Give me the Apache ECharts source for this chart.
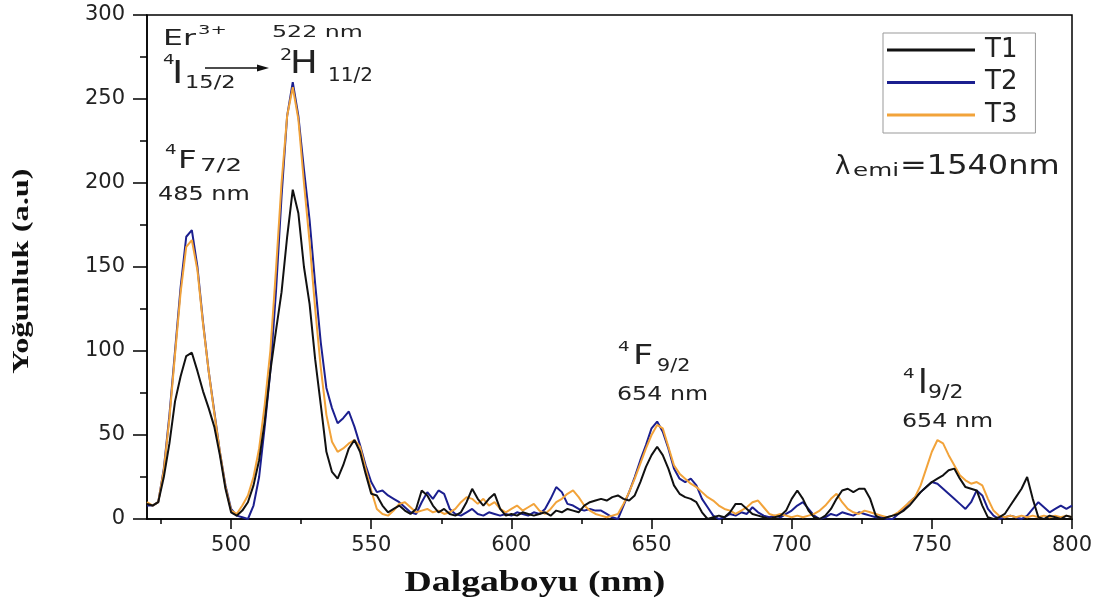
<!DOCTYPE html>
<html>
<head>
<meta charset="utf-8">
<script src="https://cdn.jsdelivr.net/npm/echarts@6/dist/echarts.min.js"></script>
<style>html,body{margin:0;padding:0;background:#fff;}#c{width:1110px;height:606px;}</style>
</head>
<body>
<div id="c"></div>
<script>
const wavelength = [
470,472,474,476,478,480,482,484,486,488,
490,492,494,496,498,500,502,504,506,508,
510,512,514,516,518,520,522,524,526,528,
530,532,534,536,538,540,542,544,546,548,
550,552,554,556,558,560,562,564,566,568,
570,572,574,576,578,580,582,584,586,588,
590,592,594,596,598,600,602,604,606,608,
610,612,614,616,618,620,622,624,626,628,
630,632,634,636,638,640,642,644,646,648,
650,652,654,656,658,660,662,664,666,668,
670,672,674,676,678,680,682,684,686,688,
690,692,694,696,698,700,702,704,706,708,
710,712,714,716,718,720,722,724,726,728,
730,732,734,736,738,740,742,744,746,748,
750,752,754,756,758,760,762,764,766,768,
770,772,774,776,778,780,782,784,786,788,
790,792,794,796,798,800];

const t1 = [
9,8,10,25,45,70,85,97,99,88,
76,66,55,38,18,4,2,5,10,20,
35,58,88,112,135,168,196,182,150,128,
95,68,40,28,24,32,42,47,40,27,
15,14,8,4,6,8,5,3,6,17,
14,8,4,6,3,2,4,10,18,12,
8,12,15,6,2,3,2,4,3,2,
3,4,2,5,4,6,5,4,8,10,
11,12,11,13,14,12,11,14,22,31,
38,43,38,30,20,15,13,12,10,4,
0,1,2,1,4,9,9,6,3,2,
1,0,1,2,5,12,17,12,5,1,
0,2,6,12,17,18,16,18,18,12,
2,0,1,2,3,5,8,12,16,19,
22,24,26,29,30,24,19,18,17,8,
1,0,1,3,8,13,18,25,12,1,
0,2,1,0,2,1];

const t2 = [
8,8,10,30,62,100,138,168,172,150,
117,88,64,40,20,6,2,1,0,8,
25,55,88,135,192,240,260,240,208,178,
140,105,78,66,57,60,64,55,44,32,
22,16,17,14,12,10,7,4,3,10,
16,12,17,15,6,3,2,4,6,3,
2,4,3,2,3,2,4,3,2,4,
3,6,12,19,16,9,8,6,5,6,
5,5,3,1,0,8,16,25,35,44,
54,58,52,42,30,24,22,24,20,12,
7,2,0,1,3,2,4,3,7,4,
2,1,2,1,3,5,8,10,6,2,
0,1,3,2,4,3,2,4,3,2,
1,1,0,0,3,6,10,13,16,19,
22,21,18,15,12,9,6,10,17,14,
6,2,0,1,2,1,0,2,6,10,
7,4,6,8,6,8];

const t3 = [
10,8,10,29,60,98,135,162,166,148,
116,88,63,40,19,5,3,8,14,25,
42,68,100,148,200,240,257,238,200,165,
125,90,62,46,40,42,45,47,43,30,
17,6,3,2,5,9,10,7,4,5,
6,4,5,3,4,6,10,13,12,9,
12,8,10,6,4,6,8,5,7,9,
5,3,6,10,12,15,17,13,8,5,
3,2,1,2,3,9,16,24,33,42,
50,56,54,43,32,27,24,21,19,16,
13,11,8,6,5,3,5,7,10,11,
7,3,2,3,2,1,2,1,2,3,
5,8,12,15,10,6,4,3,5,4,
3,2,1,2,4,7,10,13,20,30,
40,47,45,38,32,26,23,21,22,20,
12,5,2,1,2,1,2,1,2,1,
2,1,2,1,2,1];

const seriesNames = ['T1', 'T2', 'T3'];
const xMajorTicks = [500, 550, 600, 650, 700, 750, 800];
const xMinorTicks = [475, 525, 575, 625, 675, 725, 775];

const colors = { T1: '#111111', T2: '#1b1f8f', T3: '#f2a33a' };
const pairs = arr => wavelength.map((w, i) => [w, arr[i]]);

const chart = echarts.init(document.getElementById('c'));
const sans = 'DejaVu Sans';
const txt = '#222';

function mkSeries(name, arr) {
  return {
    name, type: 'line', data: pairs(arr), symbol: 'none', showSymbol: false,
    lineStyle: { color: colors[name], width: 2 }, itemStyle: { color: colors[name] },
    xAxisIndex: 0, yAxisIndex: 0, animation: false
  };
}

// text piece: left x, top of capitals, font size, horizontal stretch
function tp(str, x, capTop, size, sx) {
  return {
    type: 'text', x: x, y: capTop - 0.13 * size, scaleX: sx,
    style: { text: str, fontSize: size, fontFamily: sans, fill: txt, align: 'left', verticalAlign: 'top' }
  };
}

chart.setOption({
  animation: false,
  backgroundColor: '#fff',
  grid: { left: 147, right: 38, top: 15, bottom: 87, show: true, borderColor: '#000', borderWidth: 1.5, containLabel: false },
  legend: {
    data: seriesNames, orient: 'vertical', left: 883, top: 33,
    borderColor: '#999', borderWidth: 1, padding: [2, 18, 3, 4],
    icon: 'rect', itemWidth: 88, itemHeight: 3, itemGap: 2.5,
    textStyle: { fontSize: 26, fontFamily: sans, color: txt, lineHeight: 30, padding: [0, 0, 0, 5] }
  },
  xAxis: [
    {
      type: 'value', min: 470, max: 800, position: 'bottom',
      axisLine: { show: true, lineStyle: { color: '#000', width: 1.5 } },
      axisTick: { show: true, customValues: xMajorTicks, length: 10, lineStyle: { color: '#000', width: 1.5 } },
      axisLabel: { customValues: xMajorTicks, fontSize: 21, fontFamily: sans, color: txt, margin: 16 },
      splitLine: { show: false }
    },
    {
      type: 'value', min: 470, max: 800, position: 'bottom',
      axisLine: { show: false },
      axisTick: { show: true, customValues: xMinorTicks, length: 5, lineStyle: { color: '#000', width: 1.5 } },
      axisLabel: { show: false },
      splitLine: { show: false }
    }
  ],
  yAxis: {
    type: 'value', min: 0, max: 300, interval: 50,
    axisLine: { show: true, lineStyle: { color: '#000', width: 1.5 } },
    axisTick: { show: true, length: 14, lineStyle: { color: '#000', width: 1.5 } },
    minorTick: { show: true, splitNumber: 2, length: 7, lineStyle: { color: '#000', width: 1.5 } },
    axisLabel: { fontSize: 21, fontFamily: sans, color: txt, margin: 22 },
    splitLine: { show: false }, minorSplitLine: { show: false }
  },
  series: [mkSeries('T2', t2), mkSeries('T3', t3), mkSeries('T1', t1)],
  graphic: [
    { type: 'text', x: 22, y: 271, rotation: Math.PI / 2, scaleX: 1.35,
      style: { text: 'Yoğunluk (a.u)', fontSize: 24, fontWeight: 'bold', fontFamily: 'Liberation Serif', fill: '#111', align: 'center', verticalAlign: 'middle' } },
    { type: 'text', x: 535, y: 584, scaleX: 1.3,
      style: { text: 'Dalgaboyu (nm)', fontSize: 29, fontWeight: 'bold', fontFamily: 'Liberation Serif', fill: '#111', align: 'center', verticalAlign: 'middle' } },

    tp('Er', 163, 32, 21, 1.5),
    tp('3+', 198, 26, 13, 1.5),

    tp('4', 163, 55, 14, 1.3),
    tp('I', 172, 63, 32, 1.2),
    tp('15/2', 185, 77, 18, 1.25),
    { type: 'line', shape: { x1: 205, y1: 68, x2: 260, y2: 68 }, style: { stroke: '#111', lineWidth: 1.5 } },
    { type: 'polygon', shape: { points: [[269, 68], [257, 64.5], [257, 71.5]] }, style: { fill: '#111' } },

    tp('522 nm', 272, 27, 16, 1.48),
    tp('2', 280, 50, 16, 1.2),
    tp('H', 290, 53, 32, 1.15),
    tp('11/2', 328, 68, 20, 1.0),

    tp('4', 165, 145, 14, 1.3),
    tp('F', 178, 152, 25, 1.3),
    tp('7/2', 200, 160, 18, 1.45),
    tp('485 nm', 158, 188, 19, 1.26),

    tp('4', 618, 342, 14, 1.3),
    tp('F', 633, 347, 27, 1.3),
    tp('9/2', 657, 360, 18, 1.15),
    tp('654 nm', 617, 388, 19, 1.25),

    tp('4', 903, 369, 14, 1.3),
    tp('I', 918, 372, 33, 1.0),
    tp('9/2', 928, 385, 20, 1.1),
    tp('654 nm', 902, 415, 19, 1.25),

    tp('λ', 835, 158, 26, 1.0),
    tp('emi', 853, 165, 17, 1.45),
    tp('=1540nm', 900, 158, 26, 1.23)
  ]
});
</script>
</body>
</html>
